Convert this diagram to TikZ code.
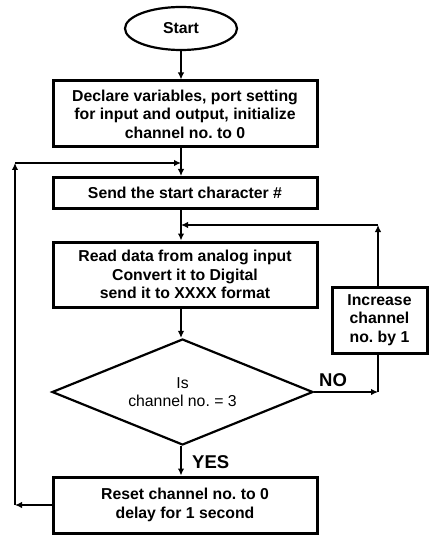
\documentclass[tikz,border=0pt]{standalone}
\usepackage{fontspec}
\setmainfont{Liberation Sans}
\usepackage{tikz}
\usetikzlibrary{positioning, shapes.geometric, arrows.meta}

\begin{document}
\frenchspacing
\begin{tikzpicture}[x=1pt, y=1pt, font=\fontsize{15.8}{18.5}\selectfont,
  box/.style={rectangle, draw=black, line width=3pt, minimum width=264pt, inner sep=0pt, align=center, font=\fontsize{15.8}{18.5}\selectfont\bfseries},
  arr/.style={line width=2.2pt, -{Latex[length=7pt, width=6.5pt]}},
  ln/.style={line width=2.2pt},
  lbl/.style={font=\fontsize{18.5}{20}\selectfont\bfseries, anchor=west, inner sep=0pt}]
%
\useasboundingbox (0,0) rectangle (438,-545);

%%% START
\node [ellipse, draw=black, line width=2.2pt, minimum width=112pt, minimum height=43pt, inner sep=0pt, font=\fontsize{15.8}{18.5}\selectfont\bfseries] (start) at (181,-28.5) {Start};

%%% INIT
\node [box, minimum height=66pt] (init) at (185,-114) {Declare variables, port setting\\ for input and output, initialize\\ channel no. to 0};

%%% SEND
\node [box, minimum height=31pt] (send) at (185,-193) {Send the start character \#};

%%% READ
\node [box, minimum height=65pt] (read) at (185,-274.5) {Read data from analog input\\ Convert it to Digital\\ send it to XXXX format};

%%% CHECK
\node [diamond, aspect=2.46, draw=black, line width=2.2pt, minimum width=261pt, minimum height=106pt, inner sep=0pt, align=center] (check) at (182.5,-392) {Is\\ channel no. = 3};

%%% INCREASE
\node [box, minimum width=95pt, minimum height=66pt] (inc) at (379.5,-320) {Increase\\ channel\\ no. by 1};

%%% RESET
\node [box, minimum height=56pt] (reset) at (185,-505) {Reset channel no. to 0\\ delay for 1 second};

%%% labels
\node [lbl] (no) at (319,-380) {NO};
\node [lbl] (yes) at (192,-462) {YES};

%%% helper points
\coordinate (left-low) at (15,-505);
\coordinate (left-up) at (15,-163);
\coordinate (join-up) at (181,-163);
\coordinate (right-low) at (378,-392);
\coordinate (right-up) at (378,-225);
\coordinate (join-read) at (181,-225);

%%% connections, arrows
\draw [arr] (start.south) -- (start.south |- init.north);
\draw [arr] (start.south |- init.south) -- (start.south |- send.north);
\draw [arr] (start.south |- send.south) -- (start.south |- read.north);
\draw [arr] (start.south |- read.south) -- (start.south |- check.north);
\draw [arr] (start.south |- check.south) -- (start.south |- reset.north);

\draw [arr] (reset.west) -- (left-low);
\draw [arr] (left-low) -- (left-up);
\draw [arr] (left-up) -- (join-up);

\draw [arr] (check.east) -- (right-low);
\draw [ln] (right-low) -- (inc.south -| right-low);
\draw [arr] (inc.north -| right-up) -- (right-up);
\draw [arr] (right-up) -- (join-read);

\end{tikzpicture}
\end{document}
